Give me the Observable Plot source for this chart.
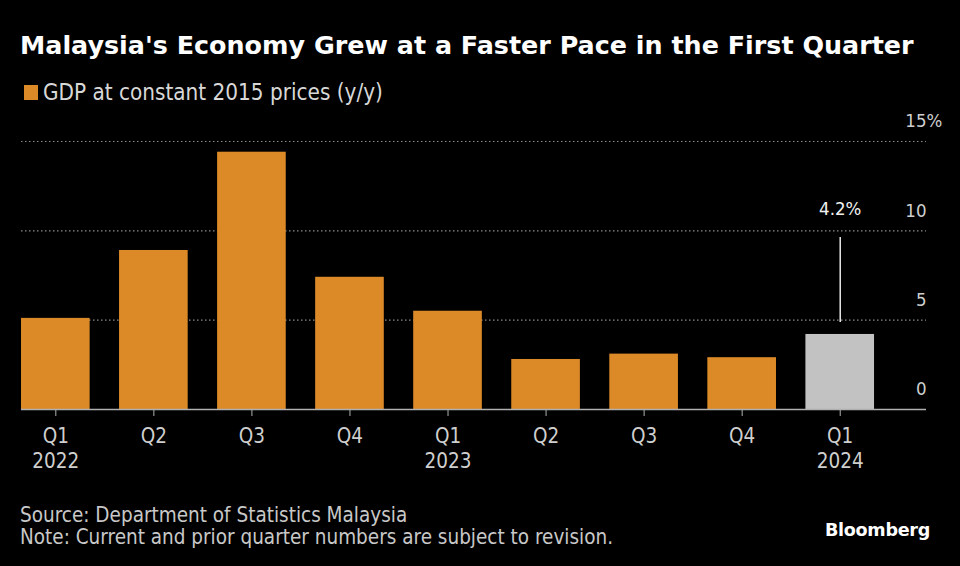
<!DOCTYPE html>
<html>
<head>
<meta charset="utf-8">
<script src="https://cdn.jsdelivr.net/npm/d3@7"></script>
<script src="https://cdn.jsdelivr.net/npm/@observablehq/plot@0.6"></script>
<style>
  html, body { margin: 0; padding: 0; background: #000; }
  body { width: 960px; height: 566px; position: relative; overflow: hidden;
         font-family: "DejaVu Sans Condensed", "DejaVu Sans", sans-serif; font-stretch: condensed; }
  #title { position: absolute; left: 20px; top: 29px; color: #fff; font-weight: bold;
           font-family: "DejaVu Sans", sans-serif; font-stretch: normal;
           font-size: 25.4px; line-height: 32px; white-space: nowrap; }
  #legend { position: absolute; left: 24px; top: 79px; color: #d8d8d8; font-size: 22.3px; line-height: 26px;
            display: flex; align-items: center; white-space: nowrap; }
  #legend .sw { width: 14px; height: 15px; background: #dc8a27; margin-right: 5px; }
  #chart { position: absolute; left: 0; top: 105px; }
  #footer { position: absolute; left: 20px; top: 504px; color: #c8c8c8; font-size: 20.5px; line-height: 22px; white-space: nowrap; }
  #brand { position: absolute; right: 30px; top: 520px; color: #fff; font-weight: bold; font-size: 17.6px;
           font-family: "DejaVu Sans", sans-serif; font-stretch: normal; letter-spacing: -0.3px; }
</style>
</head>
<body>
<div id="title">Malaysia's Economy Grew at a Faster Pace in the First Quarter</div>
<div id="legend"><span class="sw"></span><span>GDP at constant 2015 prices (y/y)</span></div>
<div id="chart"></div>
<div id="footer">Source: Department of Statistics Malaysia<br>Note: Current and prior quarter numbers are subject to revision.</div>
<div id="brand">Bloomberg</div>
<script>
const quarters = ["Q1", "Q2", "Q3", "Q4", "Q1", "Q2", "Q3", "Q4", "Q1"];
const years    = ["2022", "", "", "", "2023", "", "", "", "2024"];
const gdp      = [5.1, 8.9, 14.4, 7.4, 5.5, 2.8, 3.1, 2.9, 4.2];
const preliminary = [false, false, false, false, false, false, false, false, true];
const yTicks = [0, 5, 10, 15];
const annotationLabel = "4.2%";

const FONT = '"DejaVu Sans Condensed", "DejaVu Sans", sans-serif';
const ORANGE = "#dc8a27";
const GRAY = "#c2c2c2";

const data = quarters.map((q, i) => ({
  key: i, quarter: q, year: years[i], value: gdp[i], prelim: preliminary[i]
}));
const ann = data.filter(d => d.prelim).map(d => ({...d, label: annotationLabel}));

const chart = Plot.plot({
  width: 960,
  height: 375,
  marginLeft: 21,
  marginRight: 34,
  marginTop: 36,
  marginBottom: 71,
  style: { background: "#000", fontFamily: FONT, fontStretch: "condensed", overflow: "visible" },
  x: { type: "band", domain: data.map(d => d.key), paddingInner: 0.3, paddingOuter: 0.265, align: 0, round: false, axis: null },
  y: { domain: [0, 15], axis: null },
  marks: [
    Plot.ruleY(yTicks.filter(t => t > 0), { stroke: "#8a8a8a", strokeDasharray: "1.5,2.5", strokeWidth: 1.2 }),
    Plot.barY(data.filter(d => !d.prelim), { x: "key", y: "value", fill: ORANGE }),
    Plot.barY(data.filter(d => d.prelim), { x: "key", y: "value", fill: GRAY }),
    Plot.ruleY([0], { stroke: "#b0b0b0", strokeWidth: 1.3 }),
    Plot.axisX({
      tickSize: 7, stroke: "#b0b0b0", tickPadding: 9, fontSize: 20.5, fill: "#cfcfcf",
      lineHeight: 1.2, label: null,
      tickFormat: k => data[k].quarter + "\n" + data[k].year
    }),
    Plot.text(yTicks, { y: d => d, text: d => String(d), frameAnchor: "right", textAnchor: "end",
      dy: -20, fontSize: 18.5, fill: "#cfcfcf" }),
    Plot.text(yTicks.slice(-1), { y: d => d, text: () => "%", frameAnchor: "right", textAnchor: "start",
      dy: -20, dx: 0, fontSize: 18.5, fill: "#cfcfcf" }),
    Plot.ruleX(ann, { x: "key", y1: "value", y2: "value", insetTop: -97, insetBottom: 12, stroke: "#e8e8e8", strokeWidth: 1.5 }),
    Plot.text(ann, { x: "key", y: "value", text: "label", dy: -125, fontSize: 18.5, fill: "#f0f0f0" })
  ]
});
document.getElementById("chart").appendChild(chart);
</script>
</body>
</html>
